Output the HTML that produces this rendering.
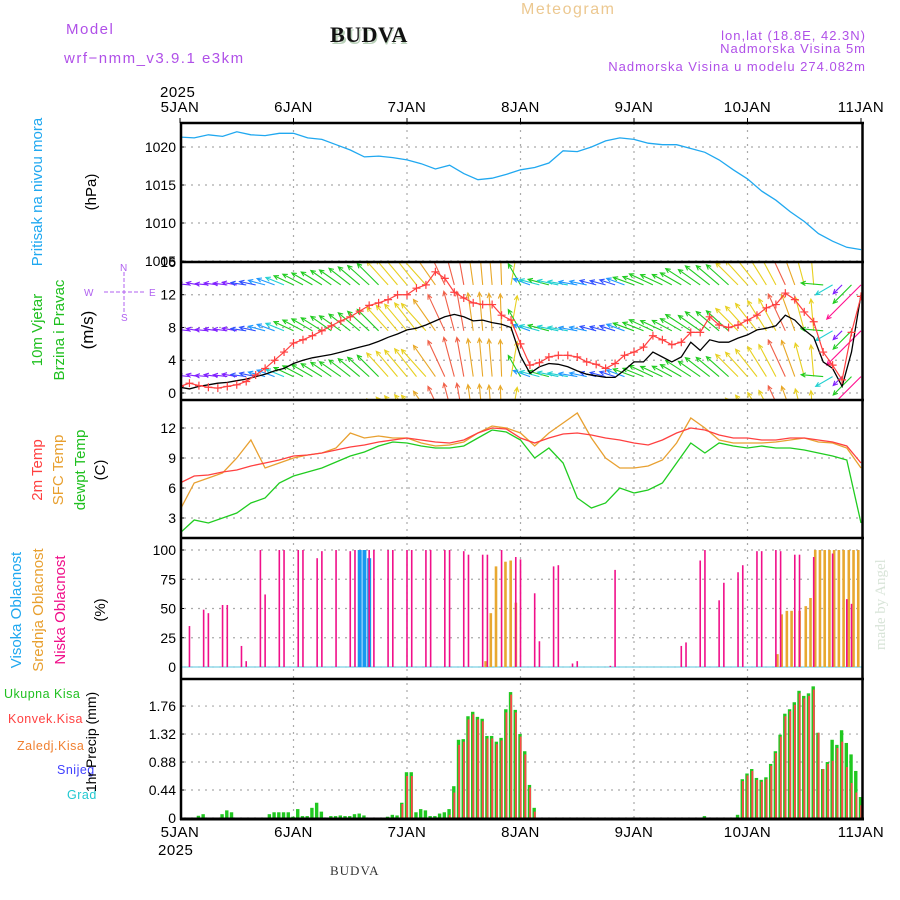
<!DOCTYPE html>
<html><head><meta charset="utf-8">
<style>
html,body{margin:0;padding:0;background:#fff;}
svg{display:block;font-family:"Liberation Sans",sans-serif;}
</style></head>
<body>
<svg id="chart" width="900" height="900" viewBox="0 0 900 900" xmlns="http://www.w3.org/2000/svg">
<defs>
<clipPath id="cpP"><rect x="181" y="124" width="681" height="138"/></clipPath>
<clipPath id="cpW"><rect x="181" y="263" width="681" height="137"/></clipPath>
<clipPath id="cpT"><rect x="181" y="401" width="681" height="137"/></clipPath>
<clipPath id="cpC"><rect x="181" y="539" width="681" height="140"/></clipPath>
<clipPath id="cpR"><rect x="181" y="680" width="681" height="139"/></clipPath>
</defs>
<g fill="#b050e8" font-size="15" letter-spacing="1.5">
<text x="66" y="34">Model</text>
<text x="64" y="63">wrf−nmm_v3.9.1 e3km</text>
<text x="521" y="14" fill="#ecc890" font-size="16">Meteogram</text>
<text x="866" y="40" text-anchor="end" font-size="13" letter-spacing="1">lon,lat (18.8E, 42.3N)</text>
<text x="866" y="53" text-anchor="end" font-size="13" letter-spacing="1">Nadmorska Visina 5m</text>
<text x="866" y="71" text-anchor="end" font-size="13" letter-spacing="1">Nadmorska Visina u modelu 274.082m</text>
</g>
<text x="332" y="44" font-family="'Liberation Serif',serif" font-weight="bold" font-size="22" fill="#b8d0b8">BUDVA</text>
<text x="330" y="42" font-family="'Liberation Serif',serif" font-weight="bold" font-size="22" fill="#111" letter-spacing="0.5">BUDVA</text>
<text x="330" y="875" font-family="'Liberation Serif',serif" font-size="13" fill="#333" letter-spacing="1">BUDVA</text>
<text transform="translate(885,650) rotate(-90)" font-family="'Liberation Serif',serif" font-size="15" fill="#d8e4d8">made by Angel</text>

<g id="labels" font-size="15">
<text transform="translate(42,192) rotate(-90)" text-anchor="middle" fill="#20a8f0">Pritisak na nivou mora</text>
<text transform="translate(96,192) rotate(-90)" text-anchor="middle" fill="#000">(hPa)</text>
<text transform="translate(42,330) rotate(-90)" text-anchor="middle" fill="#20c020">10m Vjetar</text>
<text transform="translate(64,330) rotate(-90)" text-anchor="middle" fill="#20c020">Brzina i Pravac</text>
<text transform="translate(93,330) rotate(-90)" text-anchor="middle" fill="#000" font-size="17">(m/s)</text>
<text transform="translate(42,470) rotate(-90)" text-anchor="middle" fill="#ff4040">2m Temp</text>
<text transform="translate(63,470) rotate(-90)" text-anchor="middle" fill="#e8a030">SFC Temp</text>
<text transform="translate(85,470) rotate(-90)" text-anchor="middle" fill="#20c020">dewpt Temp</text>
<text transform="translate(105,470) rotate(-90)" text-anchor="middle" fill="#000">(C)</text>
<text transform="translate(21,610) rotate(-90)" text-anchor="middle" fill="#20a8f0">Visoka Oblacnost</text>
<text transform="translate(43,610) rotate(-90)" text-anchor="middle" fill="#e8a030">Srednja Oblacnost</text>
<text transform="translate(65,610) rotate(-90)" text-anchor="middle" fill="#f0108a">Niska Oblacnost</text>
<text transform="translate(105,610) rotate(-90)" text-anchor="middle" fill="#000">(%)</text>
<g font-size="12.5" letter-spacing="0.5">
<text x="4" y="698" fill="#20c020">Ukupna Kisa</text>
<text x="8" y="723" fill="#ff4040">Konvek.Kisa</text>
<text x="17" y="750" fill="#f08030">Zaledj.Kisa</text>
<text x="57" y="774" fill="#4040ff">Snijeg</text>
<text x="67" y="799" fill="#20c8d0">Grad</text>
</g>
<text transform="translate(96,742) rotate(-90)" text-anchor="middle" fill="#000" font-size="14">1hr Precip (mm)</text>
</g>
<g id="compass" stroke="#b060f0" fill="#b060f0" font-size="10">
<line x1="124" y1="272" x2="124" y2="312" stroke-dasharray="4,2"/>
<line x1="104" y1="292" x2="146" y2="292" stroke-dasharray="4,2"/>
<text x="120" y="271" stroke="none">N</text><text x="121" y="321" stroke="none">S</text>
<text x="84" y="296" stroke="none">W</text><text x="149" y="296" stroke="none">E</text>
</g>
<g id="plot"></g>
</svg>
<script>
// ---------- data ----------
const dayLabels = ["5JAN","6JAN","7JAN","8JAN","9JAN","10JAN","11JAN"];
const pressTicks = [1020,1015,1010,1005];
const windTicks = [16,12,8,4,0];
const tempTicks = [12,9,6,3];
const cloudTicks = [100,75,50,25,0];
const precipTicks = [1.76,1.32,0.88,0.44,0];

// 3-hourly (h = 0,3,...,144)
const pressure = [1021.3,1021.2,1021.6,1021.4,1022.0,1021.6,1021.5,1021.8,
 1021.8,1021.2,1021.0,1020.3,1019.6,1018.7,1018.8,1018.6,
 1018.3,1017.8,1017.1,1017.6,1016.5,1015.7,1015.9,1016.4,
 1017.0,1017.3,1017.9,1019.5,1019.4,1020.0,1020.8,1021.2,
 1021.0,1020.5,1020.3,1020.3,1019.8,1019.3,1018.3,1017.0,
 1015.8,1014.2,1013.0,1011.5,1010.2,1008.6,1007.6,1006.8,1006.5];
const temp2m = [6.5,7.2,7.3,7.6,7.8,8.2,8.5,8.8, 9.2,9.3,9.5,9.8,10.1,10.3,10.6,10.8,
 11.0,10.8,10.6,10.5,10.8,11.5,12.0,11.9, 11.0,10.5,11.0,11.4,11.5,11.3,11.0,10.8,
 10.5,10.3,10.8,11.5,12.0,11.8,11.3,11.0, 11.0,10.8,10.8,11.0,11.0,10.8,10.6,10.2,8.5];
const tempSfc = [3.8,6.5,7.0,7.5,9.0,10.8,8.0,8.5, 9.0,9.3,9.5,10.0,11.5,11.0,11.2,11.0,
 11.0,10.5,10.2,10.3,10.6,11.5,12.2,12.0, 11.5,10.2,11.5,12.5,13.5,11.0,9.0,8.0,
 8.0,8.2,8.8,10.5,13.0,12.0,10.8,10.5, 10.5,10.5,10.6,10.8,11.0,10.6,10.5,10.0,8.0];
const dewpt = [1.5,2.8,2.5,3.0,3.5,4.5,5.0,6.5, 7.2,7.6,8.0,8.6,9.2,9.6,10.2,10.6,
 10.5,10.2,10.0,10.0,10.2,11.0,11.8,11.6, 10.8,9.0,10.0,8.5,5.0,4.0,4.5,6.0,
 5.5,5.8,6.5,8.5,10.5,9.5,10.5,10.2, 10.0,10.2,10.0,10.0,9.8,9.5,9.2,8.8,2.5];

// 2-hourly (h = 0,2,...,144)
const windSpeed = [0.7,0.5,0.8,1.0,1.2,1.3,1.5,1.7,2.0,2.3,2.7,3.0,
 3.6,4.0,4.3,4.5,4.7,5.0,5.3,5.6,5.9,6.3,6.8,7.2,
 7.7,7.9,8.3,8.8,9.3,9.6,9.3,8.8,8.9,8.6,8.4,8.0,
 4.5,2.4,3.2,3.6,3.5,3.2,2.7,2.3,2.1,1.9,1.9,2.8,
 3.8,3.8,5.0,4.4,3.8,4.4,6.2,5.2,6.5,6.2,6.2,6.7,
 7.1,7.7,7.9,8.2,9.5,8.9,7.7,6.8,3.8,3.0,0.8,5.0,12.0];
const windGust = [0.8,1.2,0.9,0.7,0.6,0.8,1.0,1.4,2.2,3.0,4.0,5.0,
 6.1,6.5,7.0,7.6,8.2,8.8,9.3,10.0,10.7,11.0,11.4,12.0,
 12.0,12.8,13.2,14.8,14.0,12.3,11.6,11.0,10.8,10.8,9.5,8.9,
 6.0,3.4,3.7,4.4,4.6,4.6,4.4,3.8,3.5,3.0,3.6,4.6,
 5.0,5.6,7.0,6.5,5.9,6.2,7.4,7.4,9.3,8.3,8.0,8.3,
 8.9,9.5,10.4,10.8,12.2,11.4,9.9,8.7,5.0,3.4,1.6,7.4,11.8];
const windDir = [278,276,280,275,278,277,280,278,282,285,290,292,
 295,298,300,302,305,305,308,310,312,315,318,320,
 320,322,318,325,335,345,350,352,355,355,358,10,
 330,290,285,285,282,280,280,282,285,285,288,290,
 290,292,295,295,298,300,303,305,308,310,312,315,
 318,322,328,332,335,340,345,355,275,240,225,225,225];
const windRows = [13.2,7.6,2.0,-3.6];

// hourly precipitation (h = 0..144)
const precipTotal = [0,0,0,0,0.035,0.06,0,0,0,0.06,0.12,0.09,0,0,0,0,0,0,0,0.06,0.09,0.09,0.09,0.09,
 0.02,0.14,0.03,0.03,0.16,0.24,0.1,0,0.03,0.03,0.04,0.03,0.03,0.06,0.07,0.04,0,0,0,0,0.02,0.05,0.04,0.24,
 0.72,0.72,0.09,0.14,0.12,0.03,0.03,0.07,0.09,0.14,0.5,1.23,1.24,1.6,1.67,1.59,1.56,1.29,1.29,1.2,1.26,1.71,1.98,1.7,
 1.32,1.05,0.52,0.16,0,0,0,0,0,0,0,0,0,0,0,0,0,0,0,0,0,0,0,0,
 0,0,0,0,0,0,0,0,0,0,0,0,0,0,0,0.03,0,0,0,0,0,0,0.05,0.61,
 0.7,0.77,0.63,0.6,0.64,0.85,1.05,1.31,1.64,1.71,1.82,2.0,1.92,1.96,2.07,1.34,0.77,0.88,1.23,1.15,1.38,1.18,1.0,0.74,0.33];
const precipConv = [0,0,0,0,0,0,0,0,0,0,0,0,0,0,0,0,0,0,0,0,0,0,0,0,
 0,0,0,0,0,0,0,0,0,0,0,0,0,0,0,0,0,0,0,0,0,0,0,0.22,
 0.66,0.66,0,0,0,0,0,0,0,0.05,0.4,1.15,1.2,1.55,1.63,1.55,1.52,1.25,1.25,1.16,1.22,1.66,1.94,1.66,
 1.28,1.0,0.48,0.1,0,0,0,0,0,0,0,0,0,0,0,0,0,0,0,0,0,0,0,0,
 0,0,0,0,0,0,0,0,0,0,0,0,0,0,0,0,0,0,0,0,0,0,0,0.58,
 0.67,0.74,0.6,0.57,0.61,0.82,1.02,1.28,1.6,1.68,1.78,1.96,1.88,1.92,2.02,1.34,0.77,0.85,0.9,1.1,1.2,0.8,0.55,0.4,0.2];

// cloud cover
const lowCloudHours = [2,5,6,9,10,13,14,17,18,21,22,25,26,29,30,33,36,37,40,41,44,45,48,49,52,53,56,57,60,61,64,65,68,71,72,75,76,79,80,83,84,91,92,106,107,110,111,114,115,118,119,122,123,126,127,130,131,134,138,141,142];
const lowCloud = [35,49,46,53,53,18,5,100,62,100,100,100,100,93,99,100,99,100,100,100,100,100,100,100,100,100,100,100,99,96,96,96,100,94,92,63,22,86,87,3,5,1,83,18,21,91,100,57,72,81,87,99,99,100,99,96,96,94,97,58,54];
const midCloudHours = [64.6,65.7,66.8,68.8,69.9,71,126.3,127.2,128.3,129.3,131,132.3,133.3,134.3,135.3,136.3,137.3,138.3,139.3,140.3,141.4,142.4,143.4];
const midCloud = [5,46,86,90,91,55,11,45,48,48,48,52,59,100,100,100,100,100,100,100,100,100,100];
const highCloudHours = [38,39,40];
const highCloud = [100,100,93];

// ---------- scales ----------
const X0 = 180, PXH = 113.5/24;
const xH = h => X0 + h*PXH;
const yP = v => 147 + (1020 - v)*7.6;
const yW = v => 393 - v*8.19;
const yT = v => 428 + (12 - v)*10;
const yC = v => 667 - v*1.17;
const yR = v => 818 - v*63.6;

const NS = "http://www.w3.org/2000/svg";
const plot = document.getElementById("plot");
function mk(tag, attrs, parent){
  const e = document.createElementNS(NS, tag);
  for (const k in attrs) e.setAttribute(k, attrs[k]);
  (parent||plot).appendChild(e);
  return e;
}
const panels = [[123,262],[262,400],[400,538],[538,679],[679,819]];

// grid
const grid = mk("g", {stroke:"#aaa","stroke-width":1.2,"stroke-dasharray":"2,5"});


for (let d=1; d<6; d++){
  const l = mk("line",{x1:xH(d*24),x2:xH(d*24),y1:123,y2:819},grid);
  
  
}
function hgrid(ticks, yf, name, fmt){
  ticks.forEach(t=>{
    const y = yf(t);
    const l = mk("line",{x1:184,x2:860,y1:y,y2:y},grid);
    
    
    const tx = mk("text",{x:176,y:y+5,"text-anchor":"end","font-size":14,fill:"#000"});
    tx.textContent = fmt ? fmt(t) : String(t);
    
    
    const tk = mk("line",{x1:180,x2:184,y1:y,y2:y,stroke:"#000"});
    
    
  });
}
hgrid(pressTicks, yP, "pressure");
hgrid(windTicks, yW, "wind");
hgrid(tempTicks, yT, "temp");
hgrid(cloudTicks, yC, "cloud");
hgrid(precipTicks, yR, "precip", t=>t===0?"0":t.toFixed(2));

// day labels
dayLabels.forEach((lab,i)=>{
  const x = xH(i*24);
  const t1 = mk("text",{x:x,y:112,"text-anchor":"middle","font-size":15,fill:"#000","letter-spacing":0.5});
  t1.textContent = lab;
  
  
  const t2 = mk("text",{x:x,y:837,"text-anchor":"middle","font-size":15,fill:"#000","letter-spacing":0.5});
  t2.textContent = lab;
  
  
  const k1 = mk("line",{x1:x,x2:x,y1:118,y2:123,stroke:"#000"});
  
  
});
const yr1 = mk("text",{x:160,y:97,"font-size":15,fill:"#000","letter-spacing":0.5}); yr1.textContent="2025";


const yr2 = mk("text",{x:158,y:855,"font-size":15,fill:"#000","letter-spacing":0.5}); yr2.textContent="2025";



function path(vals, step, yf, color, clip, name, w){
  const d = vals.map((v,i)=>(i?"L":"M")+xH(i*step).toFixed(1)+","+yf(v).toFixed(1)).join("");
  const p = mk("path",{d:d,fill:"none",stroke:color,"stroke-width":w||1.3,"clip-path":"url(#"+clip+")"});
  
  
  return p;
}

// pressure
path(pressure, 3, yP, "#20a8f0", "cpP", "pressure-line");

// wind arrows
const wg = mk("g",{"clip-path":"url(#cpW)","stroke-width":1.1,fill:"none"});


function spColor(s){
  if (s<1.6) return "#8020ff";
  if (s<2.3) return "#3050ff";
  if (s<2.9) return "#2098ff";
  if (s<3.6) return "#20d0d0";
  if (s<6.6) return "#20cc20";
  if (s<8.4) return "#e8d020";
  if (s<9.2) return "#e8a828";
  if (s<10.5) return "#f06048";
  return "#ff1090";
}
windSpeed.forEach((s,i)=>{
  const x = xH(i*2), th = windDir[i]*Math.PI/180, L = 10 + 3.2*s;
  const dx = Math.sin(th)*L, dy = -Math.cos(th)*L;
  const c = spColor(s);
  windRows.forEach(r=>{
    const y0 = yW(r), x1 = x+dx, y1 = y0+dy;
    const a1 = th+Math.PI-0.45, a2 = th+Math.PI+0.45;
    const d = `M${x.toFixed(1)},${y0.toFixed(1)}L${x1.toFixed(1)},${y1.toFixed(1)}M${(x1+Math.sin(a1)*5).toFixed(1)},${(y1-Math.cos(a1)*5).toFixed(1)}L${x1.toFixed(1)},${y1.toFixed(1)}L${(x1+Math.sin(a2)*5).toFixed(1)},${(y1-Math.cos(a2)*5).toFixed(1)}`;
    const p = mk("path",{d:d,stroke:c},wg);
    
    
  });
});
path(windSpeed, 2, yW, "#000", "cpW", "wind-speed-line", 1.3);
path(windGust, 2, yW, "#ff4040", "cpW", "wind-gust-line", 1.2);
windGust.forEach((g,i)=>{
  const x = xH(i*2), y = yW(g);
  const m = mk("path",{d:`M${x-4},${y}h8M${x},${y-4}v8`,stroke:"#ff4040","stroke-width":1.2,"clip-path":"url(#cpW)"});
  
  
});

// temps
path(tempSfc, 3, yT, "#e8a030", "cpT", "sfc-temp-line");
path(temp2m, 3, yT, "#ff4040", "cpT", "t2m-line");
path(dewpt, 3, yT, "#20cc20", "cpT", "dewpt-line");

// clouds
const base = mk("line",{x1:181,x2:862,y1:yC(0),y2:yC(0),stroke:"#90d8e8","stroke-width":1.5});


highCloudHours.forEach((h,i)=>{
  const r = mk("rect",{x:xH(h)-2,y:yC(highCloud[i]),width:4,height:yC(0)-yC(highCloud[i]),fill:"#1898f0"});
  
  
});
midCloudHours.forEach((h,i)=>{
  const r = mk("rect",{x:xH(h)-1.2,y:yC(midCloud[i]),width:2.6,height:yC(0)-yC(midCloud[i]),fill:"#e8a830"});
  
  
});
lowCloudHours.forEach((h,i)=>{
  const r = mk("rect",{x:xH(h)-0.8,y:yC(lowCloud[i]),width:1.6,height:yC(0)-yC(lowCloud[i]),fill:"#f0108a"});
  
  
});

// precipitation
const pg = mk("g",{"clip-path":"url(#cpR)"});


precipTotal.forEach((v,h)=>{
  if (v<=0) return;
  const r = mk("rect",{x:xH(h)-2.2,y:yR(v),width:3.4,height:818-yR(v),fill:"#20c820"},pg);
  
  
  const c = precipConv[h];
  if (c>0){
    const q = mk("rect",{x:xH(h)-0.8,y:yR(c),width:1.8,height:818-yR(c),fill:"#ff4848"},pg);
    
    
  }
});

// frames
panels.forEach(([a,b])=>{
  const l = mk("line",{x1:180,x2:864,y1:a,y2:a,stroke:"#000","stroke-width":2.5});
  
  
});
const bl = mk("line",{x1:180,x2:864,y1:819,y2:819,stroke:"#000","stroke-width":3});


const lf = mk("line",{x1:181,x2:181,y1:122,y2:820,stroke:"#000","stroke-width":2.5});


const rt = mk("line",{x1:862.5,x2:862.5,y1:122,y2:820,stroke:"#000","stroke-width":2.5});


</script>
</body></html>
